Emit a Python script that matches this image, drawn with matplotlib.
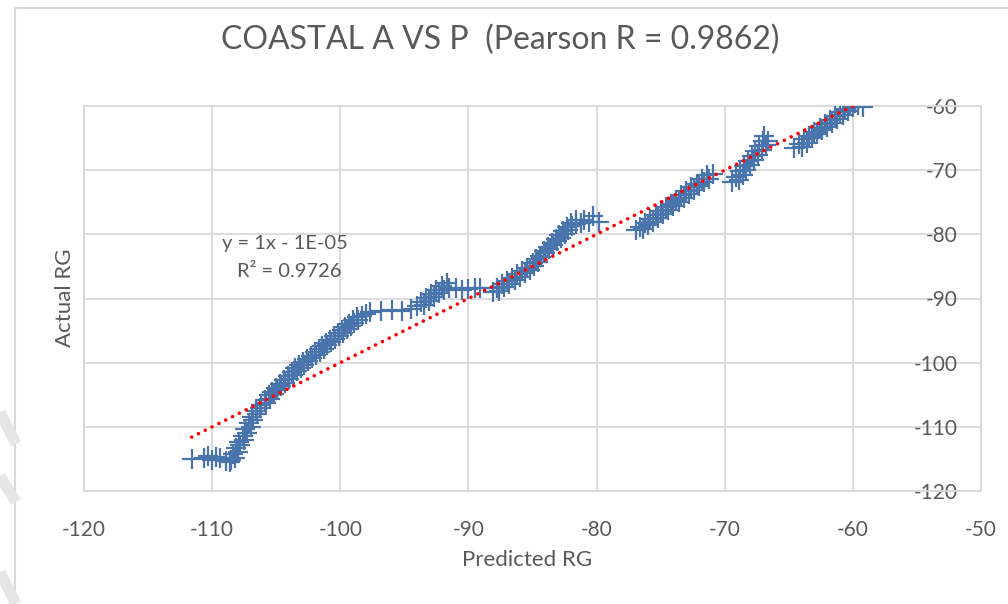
import numpy as np
import matplotlib
matplotlib.use("Agg")
import matplotlib.pyplot as plt
from matplotlib.patches import Rectangle

plt.rcParams['font.family'] = ['Lato', 'DejaVu Sans']

# --- chart data ---
title = "COASTAL A VS P  (Pearson R = 0.9862)"
x_label = "Predicted RG"
y_label = "Actual RG"
x_ticks = [-120, -110, -100, -90, -80, -70, -60, -50]
y_ticks = [-120, -110, -100, -90, -80, -70, -60]

# predicted / actual pairs, one group per visible cluster
pred_a = [-111.6, -110.6, -110.3, -110.0, -109.7, -109.4, -108.9, -108.6,
          -108.5, -108.2, -108.4, -108.0, -108.1, -107.8, -107.9, -107.5,
          -107.6, -107.3, -107.4, -107.0, -107.1, -106.8, -106.9, -106.5,
          -106.6, -106.3]
act_a = [-115.0, -114.9, -114.6, -115.1, -114.7, -114.9, -115.3, -115.5,
         -115.2, -114.8, -114.2, -113.9, -113.3, -112.9, -112.3, -112.0,
         -111.4, -111.0, -110.4, -110.0, -109.4, -109.0, -108.4, -108.0,
         -107.5, -107.0]

pred_b = [-106.2, -105.8, -105.9, -105.5, -105.6, -105.2, -105.3, -104.9,
          -105.0, -104.6, -104.7, -104.3, -104.4, -104.0, -104.1, -103.7,
          -103.8, -103.4, -103.5, -103.1, -103.2, -102.8, -102.9, -102.5,
          -102.6, -102.2, -102.3, -101.9, -102.0, -101.6, -101.7, -101.3,
          -101.4, -101.0, -101.1, -100.7, -100.8, -100.4, -100.5, -100.1,
          -100.2, -99.8, -99.9, -99.5, -99.6, -99.2, -99.3, -98.9,
          -99.0, -98.6, -98.7, -98.3, -98.0, -97.7,
          -96.8, -96.0, -95.2, -94.5]
act_b = [-106.6, -106.3, -105.8, -105.6, -105.1, -104.9, -104.5, -104.3,
         -103.9, -103.7, -103.3, -103.1, -102.7, -102.5, -102.1, -101.9,
         -101.5, -101.3, -100.9, -100.8, -100.4, -100.3, -99.9, -99.8,
         -99.4, -99.3, -98.9, -98.8, -98.4, -98.3, -97.9, -97.8,
         -97.4, -97.3, -96.9, -96.8, -96.4, -96.3, -95.9, -95.8,
         -95.4, -95.3, -94.9, -94.8, -94.4, -94.3, -93.9, -93.8,
         -93.4, -93.3, -92.9, -92.8, -92.4, -92.1,
         -92.0, -91.8, -92.0, -91.7]

pred_c = [-94.0, -93.5, -93.7, -93.1, -93.3, -92.7, -92.9, -92.3, -92.5,
          -91.9, -92.1, -91.5, -91.7, -91.0, -90.5, -90.0, -89.5, -89.1]
act_c = [-91.1, -91.0, -90.5, -90.4, -89.9, -89.8, -89.3, -89.2, -88.7,
         -88.6, -88.1, -88.3, -87.6, -88.4, -88.6, -88.5, -88.4, -88.3]

pred_d = [-88.1, -87.6, -87.8, -87.2, -87.4, -86.8, -87.0, -86.4, -86.6,
          -86.0, -86.2, -85.6, -85.8, -85.2, -85.4, -84.9, -85.0, -84.6,
          -84.7, -84.3, -84.4, -84.0, -84.1, -83.7, -83.8, -83.4, -83.5,
          -83.1, -83.2, -82.8, -82.9, -82.5, -82.6, -82.2, -82.3, -81.9,
          -82.0, -81.6, -81.6, -81.2, -81.0, -80.6, -80.3, -79.8]
act_d = [-89.0, -88.9, -88.3, -88.2, -87.8, -87.7, -87.3, -87.1, -86.8,
         -86.6, -86.2, -86.1, -85.7, -85.6, -85.2, -85.0, -84.5, -84.3,
         -83.9, -83.6, -83.3, -82.9, -82.6, -82.3, -81.9, -81.7, -81.3,
         -81.1, -80.7, -80.5, -80.1, -79.9, -79.5, -79.3, -78.9, -78.7,
         -78.3, -78.4, -77.7, -78.2, -77.8, -78.0, -77.2, -78.1]

pred_e = [-76.9, -76.4, -76.6, -76.0, -76.2, -75.6, -75.8, -75.2, -75.4,
          -74.8, -75.0, -74.4, -74.6, -74.0, -74.2, -73.6, -73.8, -73.2,
          -73.4, -72.8, -73.0, -72.4, -72.6, -72.0, -72.2, -71.6, -71.8,
          -71.2, -71.4, -70.9]
act_e = [-79.3, -79.2, -78.8, -78.6, -78.2, -78.0, -77.6, -77.4, -77.0,
         -76.8, -76.4, -76.2, -75.8, -75.6, -75.2, -75.0, -74.6, -74.3,
         -73.9, -73.7, -73.3, -73.1, -72.7, -72.5, -72.1, -71.9, -71.4,
         -71.3, -70.8, -70.6]

pred_f = [-69.4, -68.9, -69.1, -68.6, -68.8, -68.3, -68.5, -68.0, -68.2,
          -67.7, -67.9, -67.4, -67.6, -67.1, -67.3, -66.8, -67.0, -66.6,
          -66.9]
act_f = [-71.8, -71.6, -71.0, -70.8, -70.2, -70.0, -69.4, -69.2, -68.6,
         -68.4, -67.8, -67.6, -67.0, -66.8, -66.2, -66.0, -65.4, -65.5,
         -64.7]

pred_g = [-64.6, -64.0, -64.2, -63.6, -63.8, -63.2, -63.4, -62.8, -63.0,
          -62.4, -62.6, -62.0, -62.2, -61.6, -61.8, -61.2, -61.4, -60.8,
          -61.0, -60.4, -60.6, -60.0, -60.2, -59.6, -59.8, -59.2, -59.6]
act_g = [-66.6, -66.4, -65.9, -65.7, -65.2, -65.0, -64.6, -64.4, -64.0,
         -63.8, -63.4, -63.2, -62.8, -62.6, -62.2, -62.0, -61.6, -61.4,
         -61.0, -60.8, -60.4, -60.2, -59.9, -59.9, -59.5, -60.1, -59.3]

predicted = pred_a + pred_b + pred_c + pred_d + pred_e + pred_f + pred_g
actual = act_a + act_b + act_c + act_d + act_e + act_f + act_g

# linear trendline as labelled on the chart: y = 1x - 1E-05
trend_slope = 1.0
trend_intercept = -1e-05
trend_x = np.array([-111.6, -59.4])

BLUE = "#4A74AC"
GRID = "#D9D9D9"
TXT = "#595959"

fig = plt.figure(figsize=(10.08, 6.04), dpi=100)
# outer chart frame
fig.patches.append(Rectangle((15 / 1008, -0.1), 1.2, 1.1 - 8 / 604,
                             transform=fig.transFigure, fill=False,
                             edgecolor=GRID, lw=1.5))
# faint page marks at the left edge
for (x0, y0, x1, y1) in [(0, 412, 16, 444), (0, 476, 16, 502),
                         (0, 572, 16, 604)]:
    fig.add_artist(plt.Line2D([x0 / 1008, x1 / 1008],
                              [1 - y0 / 604, 1 - y1 / 604],
                              transform=fig.transFigure, color="#E6E6E6",
                              lw=8, solid_capstyle='butt'))

ax = fig.add_axes([84 / 1008, 1 - 491 / 604, 897 / 1008, 385 / 604])

ax.plot(predicted, actual, linestyle='none', color=BLUE, marker='+', ms=14,
        mew=1.6, zorder=3)
ax.plot(trend_x, trend_slope * trend_x + trend_intercept, color='#FF0000',
        lw=2.6, linestyle=(0, (0.01, 2.1)), dash_capstyle='round', zorder=4)

ax.set_xlim(-120, -50)
ax.set_ylim(-120, -60)
ax.set_xticks(x_ticks, labels=[str(v) for v in x_ticks])
ax.yaxis.tick_right()
ax.set_yticks(y_ticks, labels=[str(v) for v in y_ticks], ha='right')
ax.tick_params(axis='x', length=0, pad=21, labelsize=15, labelcolor=TXT)
ax.tick_params(axis='y', length=0, pad=-17, labelsize=15, labelcolor=TXT)

ax.grid(True, color=GRID, lw=1.3)
ax.set_axisbelow(True)
for s in ax.spines.values():
    s.set_color(GRID)
    s.set_linewidth(1.3)

fig.text(0.496, 1 - 40 / 604, title, ha='center', va='center', fontsize=23,
         color=TXT)
fig.text(527 / 1008, 1 - 560 / 604, x_label, ha='center', va='center',
         fontsize=16, color=TXT)
fig.text(65 / 1008, 1 - 298 / 604, y_label, ha='center', va='center',
         fontsize=16, color=TXT, rotation=90)

ax.text(0.224, 0.644, "y = 1x - 1E-05", transform=ax.transAxes, ha='center',
        va='center', fontsize=14.5, color=TXT)
ax.text(0.2285, 0.569, "R\u00b2 = 0.9726", transform=ax.transAxes,
        ha='center', va='center', fontsize=14.5, color=TXT)

fig.savefig("out.png", dpi=100)
